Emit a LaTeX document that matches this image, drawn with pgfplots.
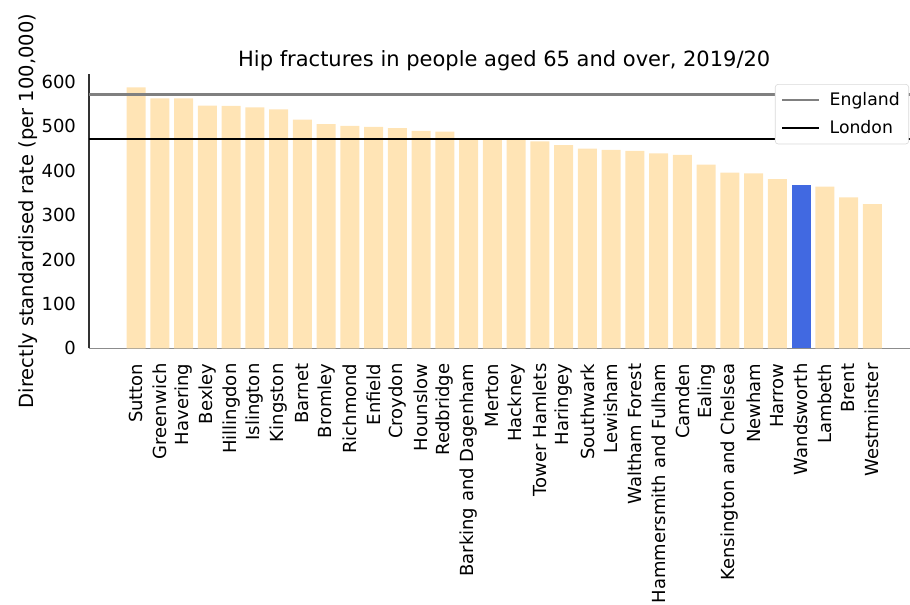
\documentclass[border=0pt]{standalone}
\usepackage{fontspec}
\setmainfont{DejaVu Sans}
\usepackage{pgfplots}
\pgfplotsset{compat=1.18}
\definecolor{moccasin}{HTML}{FFE4B5}
\definecolor{royalblue}{HTML}{4169E1}
\begin{document}
\begin{tikzpicture}
\useasboundingbox (0,0) rectangle (606.67pt,402.67pt);
\begin{axis}[
  at={(59.33pt,170.47pt)}, anchor=south west,
  scale only axis, width=553.67pt, height=182.87pt,
  xmin=-1.99, xmax=32.99, ymin=0, ymax=618,
  ybar, bar width=0.8, bar shift=0pt,
  axis x line*=bottom, axis y line*=left,
  x axis line style={black!45, line width=0.8pt, -},
  y axis line style={black!80, line width=0.8pt, -},
  xtick={0,...,31},
  xticklabels={Sutton,Greenwich,Havering,Bexley,Hillingdon,Islington,Kingston,Barnet,Bromley,Richmond,Enfield,Croydon,Hounslow,Redbridge,Barking and Dagenham,Merton,Hackney,Tower Hamlets,Haringey,Southwark,Lewisham,Waltham Forest,Hammersmith and Fulham,Camden,Ealing,Kensington and Chelsea,Newham,Harrow,Wandsworth,Lambeth,Brent,Westminster},
  ytick={0,100,...,600},
  major tick length=0pt,
  tick style={draw=none},
  /pgf/number format/assume math mode=true,
  tick label style={font=\fontsize{12}{14}\selectfont},
  xticklabel style={rotate=90, anchor=east, inner sep=0pt},
  xticklabel shift=10pt,
  yticklabel style={anchor=east, inner sep=0pt},
  yticklabel shift=8.5pt,
  ylabel={Directly standardised rate (per 100,000)},
  every axis y label/.style={at={(axis description cs:-0.067,0.5)}, rotate=90, anchor=base, font=\fontsize{13}{15}\selectfont},
  title={Hip fractures in people aged 65 and over, 2019/20},
  every axis title/.style={at={(axis description cs:0.5,1)}, anchor=base, yshift=4.9pt, font=\fontsize{14}{16}\selectfont},
  legend style={at={(axis description cs:1,1)}, anchor=north east, xshift=-7pt, yshift=-6.7pt,
    draw=black!15, rounded corners=2pt, fill=white,
    font=\fontsize{11.5}{13}\selectfont, inner xsep=4pt, inner ysep=3.5pt, row sep=4.3pt,
    column sep=4pt, cells={anchor=west}},
  legend image code/.code={\draw[#1, line width=1.6pt] (0pt,0pt) -- (24.7pt,0pt);},
]
\addplot[fill=moccasin, draw=none, forget plot] coordinates {
(0,588) (1,563) (2,563) (3,547) (4,546) (5,543) (6,538) (7,515) (8,505) (9,501)
(10,499) (11,496) (12,490) (13,488) (14,470) (15,470) (16,469) (17,466) (18,458) (19,450)
(20,447) (21,445) (22,439) (23,436) (24,414) (25,396) (26,394) (27,381)
(29,364) (30,340) (31,325)};
\addplot[fill=royalblue, draw=none, forget plot] coordinates {(28,367)};
\addplot[sharp plot, no markers, draw=gray, line width=1.6pt] coordinates {(-1.99,572) (32.99,572)};
\addlegendentry{England}
\addplot[sharp plot, no markers, draw=black, line width=1.6pt] coordinates {(-1.99,472) (32.99,472)};
\addlegendentry{London}
\end{axis}
\end{tikzpicture}
\end{document}
